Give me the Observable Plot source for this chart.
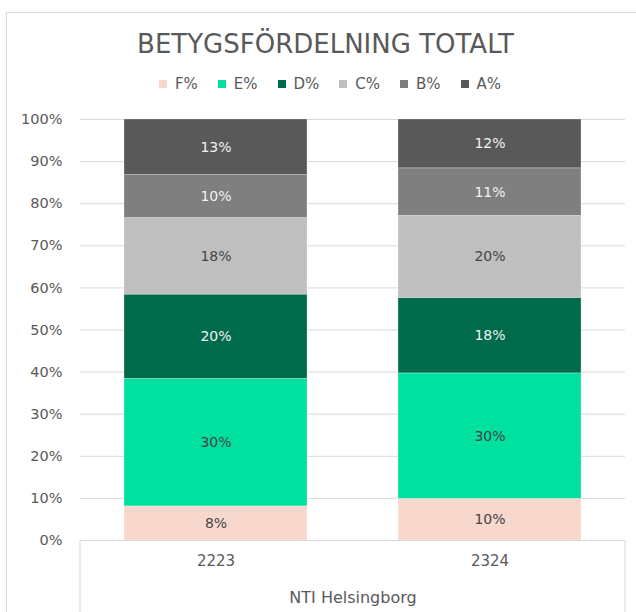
<!DOCTYPE html>
<html><head><meta charset="utf-8">
<script src="https://cdn.jsdelivr.net/npm/d3@7"></script>
<script src="https://cdn.jsdelivr.net/npm/@observablehq/plot@0.6"></script>
<style>
body{margin:0;width:636px;height:612px;overflow:hidden;background:#fff;font-family:"DejaVu Sans",sans-serif;color:#595959;position:relative}
#frame{position:absolute;left:6px;top:12px;width:700px;height:700px;border:1px solid #d9d9d9;box-sizing:border-box}
#title{position:absolute;left:6px;width:639px;top:29px;text-align:center;font-size:26px;line-height:30px;white-space:nowrap}
#legend{position:absolute;left:6px;width:648px;top:76px;display:flex;justify-content:center;font-size:15px;line-height:16px}
#legend .item{display:flex;align-items:center;margin:0 10px}
#legend .sw{width:8px;height:8px;margin-right:8px}
#chart{position:absolute;left:0;top:100px}
</style></head>
<body>
<div id="frame"></div>
<div id="title">BETYGSFÖRDELNING TOTALT</div>
<div id="legend"></div>
<div id="chart"></div>
<script>
const categories = ["2223", "2324"];
const grades = ["F%", "E%", "D%", "C%", "B%", "A%"];
const values2223 = [8.1, 30.3, 20.0, 18.2, 10.2, 13.2];
const values2324 = [9.9, 29.8, 17.9, 19.5, 11.3, 11.6];
const yTicks = [0, 10, 20, 30, 40, 50, 60, 70, 80, 90, 100];
const groupLabel = ["NTI Helsingborg"];
const colors = ["#f8d7cd", "#00e09e", "#006b4b", "#bfbfbf", "#7f7f7f", "#595959"];
const lightLabelGrades = ["D%", "B%", "A%"];

const data = [];
[values2223, values2324].forEach((vals, i) => {
  vals.forEach((v, j) => data.push({cat: categories[i], grade: grades[j], value: v}));
});

// legend
const legend = document.getElementById("legend");
grades.forEach((g, i) => {
  const it = document.createElement("div");
  it.className = "item";
  it.innerHTML = `<span class="sw" style="background:${colors[i]}"></span><span>${g}</span>`;
  legend.appendChild(it);
});

const textOpts = {x: "cat", y: "value", text: d => Math.round(d.value) + "%", fontSize: 14};

const chart = Plot.plot({
  width: 636,
  height: 512,
  marginLeft: 80,
  marginRight: 11,
  marginTop: 19,
  marginBottom: 72,
  style: {fontFamily: "DejaVu Sans, sans-serif", fontSize: "14px", color: "#595959", background: "transparent"},
  x: {domain: categories, paddingInner: 0.333, paddingOuter: 0.16, label: null},
  y: {domain: [0, 100], label: null},
  color: {domain: grades, range: colors},
  marks: [
    Plot.gridY(yTicks, {stroke: "#d9d9d9", strokeOpacity: 1, strokeWidth: 1}),
    Plot.barY(data, {x: "cat", y: "value", fill: "grade", stroke: "#ffffff", strokeOpacity: 0.35, strokeWidth: 0.75}),
    Plot.text(data, Plot.filter(d => !lightLabelGrades.includes(d.grade), Plot.stackY({...textOpts, fill: "#454545"}))),
    Plot.text(data, Plot.filter(d => lightLabelGrades.includes(d.grade), Plot.stackY({...textOpts, fill: "#f2f2f2"}))),
    Plot.ruleY([0], {stroke: "#d9d9d9"}),
    Plot.axisY(yTicks, {tickSize: 0, tickPadding: 18, tickFormat: d => d + "%", fontSize: 14.5, fill: "#595959"}),
    Plot.axisX({tickSize: 0, tickPadding: 15, fontSize: 15, fill: "#595959"}),
    Plot.text(groupLabel, {frameAnchor: "bottom", dy: 62, fontSize: 16, fill: "#595959"})
  ]
});
document.getElementById("chart").appendChild(chart);

// category-axis box edges (drawn from the x scale's range)
const xr = chart.scale("x").range;
const yBase = chart.scale("y").apply(0);
const svg = d3.select(chart);
xr.forEach(xx => {
  svg.append("line").attr("x1", xx).attr("x2", xx).attr("y1", yBase).attr("y2", 512)
    .attr("stroke", "#d9d9d9");
});
</script>
</body></html>
